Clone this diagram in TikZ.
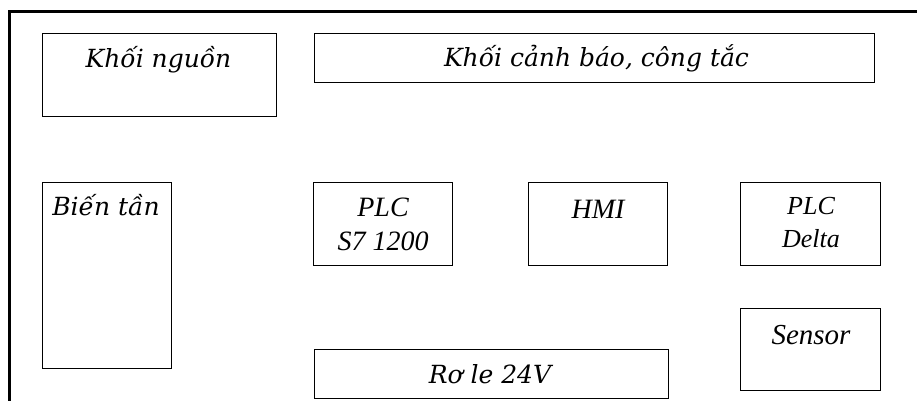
\documentclass[tikz,border=0pt]{standalone}
\usepackage{fontspec}
\setmainfont{Liberation Serif}
\newfontfamily\vnfont{DejaVu Serif}
\begin{document}
\begin{tikzpicture}[x=1pt,y=-1pt,
  box/.style={draw=black, line width=1pt, inner sep=0pt, anchor=north west},
  vn/.style={font=\vnfont\itshape\fontsize{25}{30}\selectfont, inner sep=0pt, anchor=base},
  tn/.style={font=\itshape\fontsize{28}{34}\selectfont, inner sep=0pt, align=center, anchor=base}]
\useasboundingbox (0,0) rectangle (917,400);
\clip (0,0) rectangle (917,400);
\coordinate (fbl) at (9.5,420);
\coordinate (ftl) at (9.5,11.5);
\coordinate (ftr) at (930,11.5);
\draw[line width=3pt] (fbl) -- (ftl) -- (ftr);
% boxes
\node[box, minimum width=234pt, minimum height=83pt] (nguon) at (42,33) {};
\node[box, minimum width=560pt, minimum height=49pt] (canhbao) at (314,33) {};
\node[box, minimum width=129pt, minimum height=186pt] (bientan) at (42,182) {};
\node[box, minimum width=139pt, minimum height=83pt] (s7) at (313,182) {};
\node[box, minimum width=139pt, minimum height=83pt] (hmi) at (528,182) {};
\node[box, minimum width=140pt, minimum height=83pt] (delta) at (740,182) {};
\node[box, minimum width=140pt, minimum height=82pt] (sensor) at (740,308) {};
\node[box, minimum width=354pt, minimum height=49pt] (role) at (314,349) {};
% texts
\node[vn] (tnguon) at (158.5,67) {Khối nguồn};
\node[vn] (tcanhbao) at (596.5,66) {Khối cảnh báo, công tắc};
\node[vn] (tbientan) at (106,215) {Biến tần};
\node[tn] (ts7) at (383,250) {PLC\\S7 1200};
\node[tn] (thmi) at (598,218) {HMI};
\node[tn, font=\itshape\fontsize{26}{33}\selectfont] (tdelta) at (811,247) {PLC\\Delta};
\node[tn, font=\itshape\fontsize{29}{34}\selectfont] (tsensor) at (811,344) {Sensor};
\node[vn] (trole) at (490,383) {Rơ le 24V};
\end{tikzpicture}
\end{document}
